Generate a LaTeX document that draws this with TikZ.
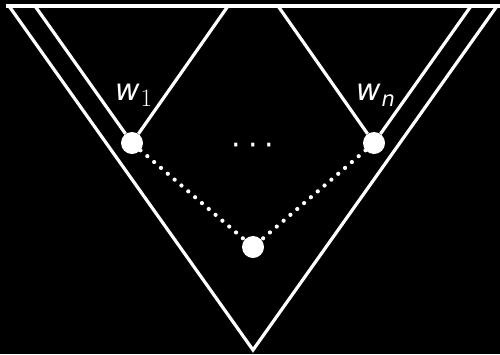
\documentclass[tikz,border=0pt]{standalone}
\usepackage{fontspec}
\setmainfont{DejaVu Sans}
\newfontfamily\lmfont{Latin Modern Roman}
\begin{document}
\begin{tikzpicture}[x=1pt,y=-1pt,
  edge/.style={white,line width=3.2pt},
  dotline/.style={white,line width=4.2pt,line cap=round,dash pattern=on 0pt off 9pt},
  vert/.style={circle,fill=white,draw=none,minimum size=22pt,inner sep=0pt},
  lab/.style={white,inner sep=0pt,font=\fontsize{30}{32}\selectfont}]
\fill[black] (0,0) rectangle (500,354);
\useasboundingbox (0,0) rectangle (500,354);
% coordinates
\coordinate (L) at (6,6);
\coordinate (R) at (500,6);
\coordinate (O1) at (9,6);
\coordinate (O2) at (497,6);
\coordinate (apex) at (253,350);
\coordinate (a1) at (35,6);
\coordinate (b1) at (228,6);
\coordinate (a2) at (278,6);
\coordinate (b2) at (471,6);
% vertices
\node[vert] (w1) at (132,143) {};
\node[vert] (wn) at (374,143) {};
\node[vert] (r) at (253,247) {};
% lines
\draw[edge] (L) -- (R);
\draw[edge,line join=miter] (O1) -- (apex) -- (O2);
\draw[edge] (a1) -- (w1) -- (b1);
\draw[edge] (a2) -- (wn) -- (b2);
\draw[dotline] (w1) -- (r);
\draw[dotline] (wn) -- (r);
% labels
\node[lab,anchor=base west] (l1) at (115,100) {\itshape w\hspace{1pt}\raisebox{-6pt}{\lmfont\fontsize{25}{27}\selectfont\upshape 1}};
\node[lab,anchor=base west] (ln) at (356,100) {\itshape w\hspace{1pt}\raisebox{-6pt}{\fontsize{21}{23}\selectfont n}};
\node[lab,anchor=base] (dots) at (253,155) {·\hspace{7pt}·\hspace{7pt}·};
\end{tikzpicture}
\end{document}
